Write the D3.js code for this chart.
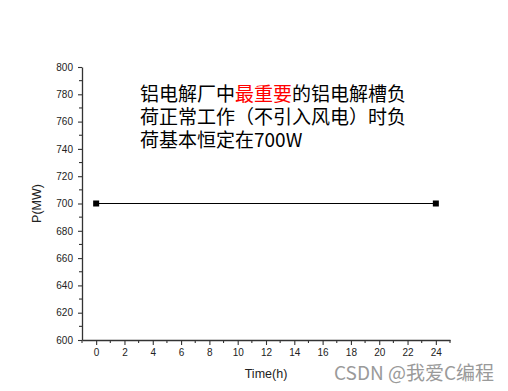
<!DOCTYPE html>
<html>
<head>
<meta charset="utf-8">
<script src="https://cdn.jsdelivr.net/npm/d3@7"></script>
<style>
  html, body { margin: 0; padding: 0; background: #fff; }
  svg { display: block; }
</style>
</head>
<body>
<svg id="chart" width="508" height="391"></svg>
<script>
// ---- data ----
const timeHours = [0, 24];
const powerMW = [700, 700];
const xTickValues = [0, 2, 4, 6, 8, 10, 12, 14, 16, 18, 20, 22, 24];
const yTickValues = [600, 620, 640, 660, 680, 700, 720, 740, 760, 780, 800];
const xLabel = "Time(h)";
const yLabel = "P(MW)";
const noteLines = [
  [{t: "铝电解厂中", c: "#000"}, {t: "最重要", c: "#ff0000"}, {t: "的铝电解槽负", c: "#000"}],
  [{t: "荷正常工作（不引入风电）时负", c: "#000"}],
  [{t: "荷基本恒定在700W", c: "#000"}]
];
const watermark = "CSDN @我爱C编程";

// ---- layout ----
const svg = d3.select("#chart");
const x = d3.scaleLinear().domain([-1, 25]).range([82, 450]);
const y = d3.scaleLinear().domain([600, 800]).range([340, 67]);
const axisColor = "#333";

// minor ticks
const xMinor = d3.range(-1, 26, 1).filter(v => !xTickValues.includes(v));
const yMinor = d3.range(600, 801, 10).filter(v => !yTickValues.includes(v));

// X axis
const gx = svg.append("g").attr("transform", `translate(0,${y(600)})`);
gx.call(d3.axisBottom(x).tickValues(xTickValues).tickSize(5).tickPadding(4).tickSizeOuter(0).tickFormat(d3.format("d")));
gx.append("g").selectAll("line").data(xMinor).join("line")
  .attr("x1", d => x(d)).attr("x2", d => x(d)).attr("y1", 0).attr("y2", 3);

// Y axis
const gy = svg.append("g").attr("transform", `translate(${x(-1)},0)`);
gy.call(d3.axisLeft(y).tickValues(yTickValues).tickSize(4).tickPadding(5).tickSizeOuter(0).tickFormat(d3.format("d")));
gy.append("g").selectAll("line").data(yMinor).join("line")
  .attr("x1", 0).attr("x2", -3).attr("y1", d => y(d)).attr("y2", d => y(d));

[gx, gy].forEach(g => {
  g.select(".domain").attr("stroke", axisColor).attr("stroke-width", 1.3);
  g.selectAll("line").attr("stroke", axisColor).attr("stroke-width", 1.1);
  g.selectAll("text").attr("font-family", "Arial, 'Liberation Sans', sans-serif")
    .attr("font-size", 10).attr("fill", "#222");
});

// axis titles
svg.append("text").attr("x", (x(-1) + x(25)) / 2).attr("y", 378)
  .attr("text-anchor", "middle")
  .attr("font-family", "Arial, 'Liberation Sans', sans-serif").attr("font-size", 12.5).attr("fill", "#222")
  .text(xLabel);
svg.append("text").attr("transform", `translate(41,${y(700)}) rotate(-90)`)
  .attr("text-anchor", "middle")
  .attr("font-family", "Arial, 'Liberation Sans', sans-serif").attr("font-size", 12.5).attr("fill", "#222")
  .text(yLabel);

// data line
const pts = timeHours.map((t, i) => [t, powerMW[i]]);
svg.append("path").datum(pts)
  .attr("fill", "none").attr("stroke", "#000").attr("stroke-width", 1)
  .attr("d", d3.line().x(d => x(d[0])).y(d => y(d[1])));
svg.append("g").selectAll("rect").data(pts).join("rect")
  .attr("x", d => x(d[0]) - 3).attr("y", d => y(d[1]) - 3)
  .attr("width", 6).attr("height", 6).attr("fill", "#000");

// annotation
const note = svg.append("text")
  .attr("font-family", "'Noto Sans CJK SC', sans-serif").attr("font-size", 19);
noteLines.forEach((line, i) => {
  line.forEach((seg, j) => {
    const ts = note.append("tspan").attr("fill", seg.c).text(seg.t);
    if (j === 0) ts.attr("x", 140).attr("y", 101 + i * 23);
  });
});

// watermark
svg.append("text").attr("x", 334).attr("y", 380)
  .attr("font-family", "'Noto Sans CJK SC', sans-serif").attr("font-size", 19)
  .attr("fill", "#9a9a9a").text(watermark);
</script>
</body>
</html>
